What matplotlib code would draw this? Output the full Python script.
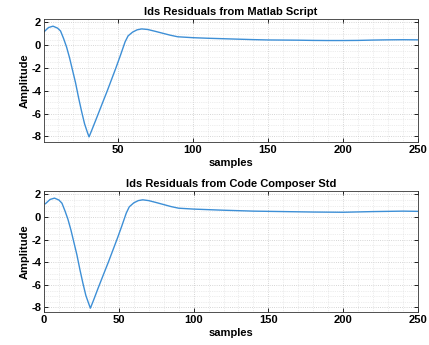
import matplotlib
matplotlib.use("Agg")
import matplotlib.pyplot as plt
from matplotlib.ticker import MultipleLocator

# residuals (sample index, amplitude)
x_matlab = [1, 4, 7, 10, 12, 14, 16, 18, 20, 22, 24, 26, 28, 30, 31, 33, 36, 40, 43, 46, 49,
            52, 55, 57, 60, 63, 66, 70, 75, 80, 85, 90, 100, 110, 120, 130, 140, 150, 160,
            170, 180, 190, 200, 210, 220, 230, 240, 250]
y_matlab = [1.17, 1.55, 1.67, 1.5, 1.25, 0.6, -0.15, -1.1, -2.2, -3.3, -4.6, -5.8, -6.9,
            -7.7, -8.05, -7.4, -6.4, -5.05, -4.05, -3.0, -1.95, -0.85, 0.3, 0.82, 1.15, 1.35,
            1.43, 1.38, 1.22, 1.05, 0.88, 0.74, 0.66, 0.61, 0.57, 0.53, 0.49, 0.46, 0.45, 0.44,
            0.42, 0.41, 0.41, 0.42, 0.45, 0.47, 0.48, 0.47]

x_ccs = [1, 4, 7, 10, 12, 14, 16, 18, 20, 22, 24, 26, 28, 30, 31, 33, 36, 40, 43, 46, 49,
         52, 55, 57, 60, 63, 66, 70, 75, 80, 85, 90, 100, 110, 120, 130, 140, 150, 160,
         170, 180, 190, 200, 210, 220, 230, 240, 250]
y_ccs = [1.18, 1.55, 1.67, 1.5, 1.22, 0.55, -0.2, -1.15, -2.25, -3.35, -4.65, -5.85, -6.95,
         -7.7, -8.06, -7.4, -6.35, -5.0, -4.0, -2.95, -1.9, -0.8, 0.35, 0.9, 1.25, 1.45, 1.52,
         1.45, 1.28, 1.1, 0.92, 0.78, 0.7, 0.65, 0.6, 0.56, 0.52, 0.5, 0.48, 0.46, 0.44,
         0.43, 0.42, 0.45, 0.48, 0.5, 0.52, 0.5]

titles = ["Ids Residuals from Matlab Script", "Ids Residuals from Code Composer Std"]

plt.rcParams['font.family'] = ['Liberation Sans', 'DejaVu Sans']
plt.rcParams['font.weight'] = 'bold'
plt.rcParams['font.size'] = 8
plt.rcParams['axes.unicode_minus'] = False

fig = plt.figure(figsize=(4.29, 3.45), dpi=100)
ax1 = fig.add_axes([44 / 429, 1 - 142 / 345, 374 / 429, 123 / 345])
ax2 = fig.add_axes([44 / 429, 1 - 312 / 345, 374 / 429, 121 / 345])

panels = [(ax1, x_matlab, y_matlab, (1, 250), (-8.5, 2.3)),
          (ax2, x_ccs, y_ccs, (0, 250), (-8.4, 2.3))]

for (ax, xs, ys, xl, yl), title in zip(panels, titles):
    ax.plot(xs, ys, color='#3d8fd6', lw=1.0)
    ax.set_xlim(*xl)
    ax.set_ylim(*yl)
    ax.xaxis.set_major_locator(MultipleLocator(50))
    ax.yaxis.set_major_locator(MultipleLocator(2))
    ax.xaxis.set_minor_locator(MultipleLocator(10))
    ax.yaxis.set_minor_locator(MultipleLocator(0.5))
    ax.grid(which='major', color='#c8c8c8', ls=':', lw=0.6)
    ax.grid(which='minor', color='#dcdcdc', ls=':', lw=0.5)
    ax.tick_params(which='both', direction='in', top=True, right=True, pad=2)
    ax.tick_params(which='major', length=3, width=0.6)
    ax.tick_params(which='minor', length=0)
    for s in ax.spines.values():
        s.set_linewidth(0.6)
        s.set_color('#333333')
    ax.set_title(title, fontsize=8, fontweight='bold', pad=3)
    ax.set_xlabel("samples", fontsize=8, fontweight='bold', labelpad=2)
    ax.set_ylabel("Amplitude", fontsize=8, fontweight='bold', labelpad=1)

fig.savefig("out.png", dpi=100)
